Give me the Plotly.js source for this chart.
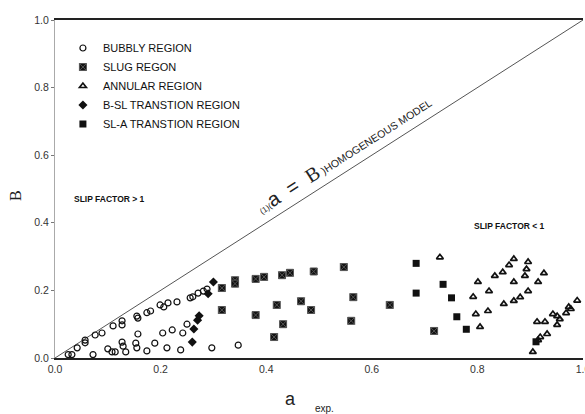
<!DOCTYPE html>
<html><head><meta charset="utf-8">
<script src="https://cdn.plot.ly/plotly-3.0.1.min.js"></script>
<style>html,body{margin:0;padding:0;background:#fff;overflow:hidden}#chart{width:585px;height:414px;overflow:hidden}</style>
</head><body><div id="chart"></div>
<script>
// Bubbly region
const bubblyX = [0.025,0.032,0.042,0.057,0.057,0.072,0.076,0.089,0.100,0.108,0.114,0.110,0.127,0.127,0.127,0.129,0.134,0.155,0.157,0.153,0.155,0.157,0.174,0.174,0.181,0.189,0.199,0.206,0.214,0.204,0.212,0.222,0.231,0.238,0.242,0.250,0.256,0.261,0.271,0.281,0.288,0.297,0.347];
const bubblyY = [0.010,0.010,0.030,0.045,0.053,0.010,0.068,0.074,0.027,0.018,0.018,0.095,0.098,0.110,0.047,0.035,0.018,0.124,0.118,0.044,0.030,0.071,0.021,0.134,0.139,0.044,0.157,0.151,0.163,0.074,0.030,0.083,0.166,0.024,0.074,0.100,0.178,0.181,0.192,0.198,0.204,0.030,0.038];
// Slug region
const slugX = [0.316,0.316,0.341,0.341,0.380,0.380,0.396,0.430,0.445,0.420,0.432,0.415,0.466,0.485,0.490,0.547,0.565,0.561,0.634,0.718];
const slugY = [0.207,0.142,0.230,0.220,0.234,0.127,0.240,0.245,0.252,0.157,0.100,0.062,0.168,0.142,0.256,0.269,0.180,0.110,0.157,0.080];
// Annular region
const annularX = [0.729,0.801,0.792,0.822,0.797,0.820,0.805,0.833,0.848,0.860,0.869,0.850,0.869,0.881,0.896,0.869,0.896,0.893,0.890,0.915,0.926,0.913,0.928,0.919,0.932,0.905,0.915,0.943,0.951,0.956,0.951,0.968,0.973,0.977,0.989];
const annularY = [0.298,0.225,0.181,0.198,0.130,0.139,0.092,0.243,0.254,0.275,0.293,0.160,0.169,0.180,0.198,0.225,0.284,0.263,0.243,0.225,0.251,0.107,0.107,0.062,0.071,0.018,0.053,0.130,0.124,0.115,0.098,0.133,0.151,0.145,0.170];
// B-SL transition region
const bslX = [0.260,0.263,0.270,0.273,0.290,0.300];
const bslY = [0.047,0.086,0.112,0.125,0.190,0.225];
// SL-A transition region
const slaX = [0.684,0.684,0.735,0.751,0.761,0.779,0.911];
const slaY = [0.280,0.192,0.218,0.178,0.122,0.085,0.048];
// Homogeneous model line (B = a)
const modelX = [0, 1];
const modelY = [0, 1];
const tickVals = [0, 0.2, 0.4, 0.6, 0.8, 1.0];
const tickText = ["0.0","0.2","0.4","0.6","0.8","1.0"];

const base = {type:'scatter', mode:'markers', cliponaxis:false};
const traces = [
  {x:modelX, y:modelY, mode:'lines', type:'scatter', line:{color:'#555', width:1}, showlegend:false, hoverinfo:'skip'},
  Object.assign({}, base, {name:'BUBBLY REGION', x:bubblyX, y:bubblyY,
    marker:{symbol:'circle-open', size:6, color:'#111', line:{width:1.2}}}),
  Object.assign({}, base, {name:'SLUG REGON', x:slugX, y:slugY,
    marker:{symbol:'square-x', size:7, color:'#111', line:{color:'#555', width:1}}}),
  Object.assign({}, base, {name:'ANNULAR REGION', x:annularX, y:annularY,
    marker:{symbol:'triangle-up-open', size:6, color:'#111', line:{width:1.7}}}),
  Object.assign({}, base, {name:'B-SL TRANSTION REGION', x:bslX, y:bslY,
    marker:{symbol:'diamond', size:7, color:'#111'}}),
  Object.assign({}, base, {name:'SL-A TRANSTION REGION', x:slaX, y:slaY,
    marker:{symbol:'square', size:7, color:'#111'}})
];

const layout = {
  width:585, height:414,
  margin:{l:55, r:2, t:20, b:56},
  paper_bgcolor:'#fff', plot_bgcolor:'#fff',
  font:{family:'Arial, Liberation Sans, sans-serif', color:'#222', size:10},
  showlegend:true,
  legend:{x:0.015, y:0.96, xanchor:'left', yanchor:'top', bgcolor:'rgba(0,0,0,0)',
    font:{size:11, color:'#111'}, tracegroupgap:0},
  xaxis:{range:[0,1], tickvals:tickVals, ticktext:tickText, showgrid:false, zeroline:false,
    showline:true, linecolor:'#222', linewidth:2, mirror:true, ticks:'', ticklabeloverflow:'allow',
    tickfont:{size:10.5, color:'#333'}},
  yaxis:{range:[0,1], tickvals:tickVals, ticktext:tickText, showgrid:false, zeroline:false,
    showline:true, linecolor:'#aaa', linewidth:1, ticks:'outside', ticklen:3, tickcolor:'#777',
    tickfont:{size:10.5, color:'#333'}},
  annotations:[
    {xref:'paper', yref:'paper', x:-0.076, y:0.482, xanchor:'center', yanchor:'middle', text:'B', showarrow:false, textangle:-90,
      font:{family:'Liberation Serif, DejaVu Serif, serif', size:16, color:'#222'}},
    {xref:'paper', yref:'paper', x:0.446, y:-0.121, xanchor:'center', yanchor:'middle', text:'a', showarrow:false,
      font:{size:18, color:'#222'}},
    {xref:'paper', yref:'paper', x:0.51, y:-0.148, xanchor:'center', yanchor:'middle', text:'exp.', showarrow:false,
      font:{size:10, color:'#222'}},
    {xref:'paper', yref:'paper', x:0.104, y:0.47, xanchor:'center', yanchor:'middle', text:'<b>SLIP FACTOR &gt; 1</b>', showarrow:false,
      font:{size:8.5, color:'#111'}},
    {xref:'paper', yref:'paper', x:0.86, y:0.39, xanchor:'center', yanchor:'middle', text:'<b>SLIP FACTOR &lt; 1</b>', showarrow:false,
      font:{size:8.5, color:'#111'}},
    {xref:'paper', yref:'paper', x:0.546, y:0.605, xanchor:'center', yanchor:'middle', textangle:-32.6, showarrow:false,
      text:"<span style='font-size:8px'>(1)(</span>a\u00a0\u00a0=\u00a0\u00a0<span style='font-family:Liberation Serif, serif'>B</span><span style='font-size:10.5px'>\u00a0)HOMOGENEOUS MODEL</span>",
      font:{size:20, color:'#222'}}
  ]
};
Plotly.newPlot('chart', traces, layout, {displayModeBar:false, staticPlot:true});
</script></body></html>
